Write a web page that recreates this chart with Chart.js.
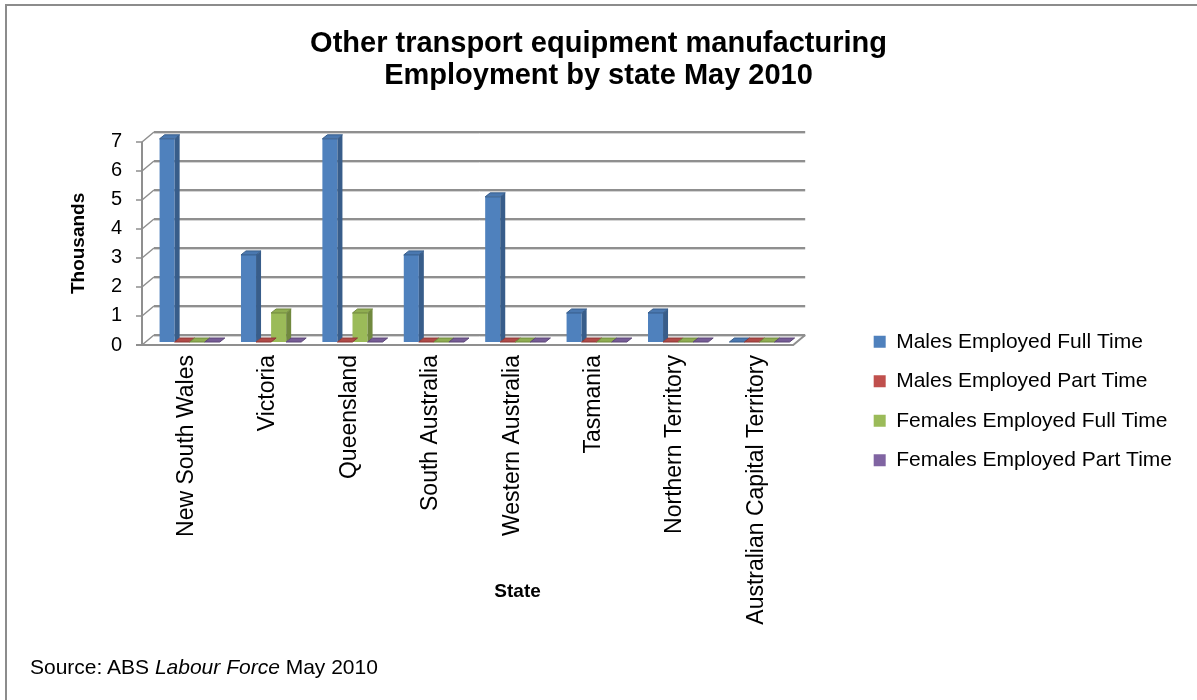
<!DOCTYPE html>
<html>
<head>
<meta charset="utf-8">
<title>Other transport equipment manufacturing – Employment by state May 2010</title>
<script src="https://cdn.jsdelivr.net/npm/chart.js@4.4.1/dist/chart.umd.min.js"></script>
<style>
  html, body { margin: 0; padding: 0; background: #fff; }
  body { width: 1197px; height: 700px; position: relative; overflow: hidden; font-family: 'Liberation Sans', Arial, sans-serif; }
  #frame { position: absolute; left: 5px; top: 4px; width: 1400px; height: 900px;
           border-top: 2px solid #8c8c8c; border-left: 2px solid #8c8c8c; }
  #wrap { position: absolute; left: 0; top: 0; width: 1197px; height: 700px; }
  #source { position: absolute; left: 30px; top: 655px; font-size: 21px; color: #000; }
</style>
</head>
<body>
<div id="frame"></div>
<div id="wrap"><canvas id="chart" width="1197" height="700"></canvas></div>
<div id="source">Source: ABS <i>Labour Force</i> May 2010</div>

<script>
// States along the category axis
const STATES = [
  'New South Wales', 'Victoria', 'Queensland', 'South Australia',
  'Western Australia', 'Tasmania', 'Northern Territory', 'Australian Capital Territory',
];

// Employment, thousands
const MALES_FULL     = [7, 3, 7, 3, 5, 1, 1, 0];
const MALES_PART     = [0, 0, 0, 0, 0, 0, 0, 0];
const FEMALES_FULL   = [0, 1, 1, 0, 0, 0, 0, 0];
const FEMALES_PART   = [0, 0, 0, 0, 0, 0, 0, 0];

const Y_TICKS = [0, 1, 2, 3, 4, 5, 6, 7];

// front / side / top face colours per series
const FACES = [
  { front: '#4f81bd', side: '#385d8a', top: '#4a78b0' },
  { front: '#c0504d', side: '#8c3836', top: '#b04a47' },
  { front: '#9bbb59', side: '#71893f', top: '#8fad51' },
  { front: '#8064a2', side: '#5c4776', top: '#765c96' },
];

const FONT = "'Liberation Sans', Arial, sans-serif";
const DEPTH = { dx: 12, dy: -10 };   // back wall offset
const BAR_D = { dx: 5, dy: -4 };     // bar depth

// ── back wall, side wall and floor ─────────────────────────────────────────
const walls3d = {
  id: 'walls3d',
  beforeDatasetsDraw(chart) {
    const { ctx, chartArea: a, scales: { y } } = chart;
    ctx.save();
    ctx.lineCap = 'butt';

    Y_TICKS.forEach(v => {
      const py = Math.round(y.getPixelForValue(v));
      // soft shadow under each grid line
      ctx.strokeStyle = '#d4d4d4';
      ctx.lineWidth = 1;
      ctx.beginPath();
      ctx.moveTo(a.left + DEPTH.dx, py + DEPTH.dy + 1.5);
      ctx.lineTo(a.right + DEPTH.dx, py + DEPTH.dy + 1.5);
      ctx.stroke();

      ctx.strokeStyle = '#8f8f8f';
      ctx.lineWidth = 2;
      ctx.beginPath();
      ctx.moveTo(a.left + DEPTH.dx, py + DEPTH.dy);
      ctx.lineTo(a.right + DEPTH.dx, py + DEPTH.dy);
      ctx.stroke();

      // side wall diagonal + tick mark
      ctx.lineWidth = 1.5;
      ctx.beginPath();
      ctx.moveTo(a.left, py);
      ctx.lineTo(a.left + DEPTH.dx, py + DEPTH.dy);
      ctx.moveTo(a.left - 6, py);
      ctx.lineTo(a.left, py);
      ctx.stroke();
    });

    // value axis line
    ctx.strokeStyle = '#8f8f8f';
    ctx.lineWidth = 2;
    ctx.beginPath();
    ctx.moveTo(a.left, a.top);
    ctx.lineTo(a.left, a.bottom);
    ctx.stroke();

    // floor outline
    ctx.beginPath();
    ctx.moveTo(a.left - 6, a.bottom);
    ctx.lineTo(a.right, a.bottom);
    ctx.lineTo(a.right + DEPTH.dx, a.bottom + DEPTH.dy);
    ctx.stroke();
    ctx.restore();

    // bars stand part way into the depth of the floor
    ctx.save();
    ctx.translate(7, -3);
  },
  afterDatasetsDraw(chart) {
    const { ctx } = chart;
    const n = chart.data.labels.length;
    for (let i = 0; i < n; i++) {
      chart.data.datasets.forEach((ds, di) => {
        const bar = chart.getDatasetMeta(di).data[i];
        if (!bar) return;
        const { x, y, base, width } = bar.getProps(['x', 'y', 'base', 'width'], true);
        const l = x - width / 2, r = x + width / 2;
        const f = FACES[di];
        // right side
        ctx.fillStyle = f.side;
        ctx.beginPath();
        ctx.moveTo(r, y);
        ctx.lineTo(r + BAR_D.dx, y + BAR_D.dy);
        ctx.lineTo(r + BAR_D.dx, base + BAR_D.dy);
        ctx.lineTo(r, base);
        ctx.closePath();
        ctx.fill();
        // top
        ctx.fillStyle = f.top;
        ctx.beginPath();
        ctx.moveTo(l, y);
        ctx.lineTo(l + BAR_D.dx, y + BAR_D.dy);
        ctx.lineTo(r + BAR_D.dx, y + BAR_D.dy);
        ctx.lineTo(r, y);
        ctx.closePath();
        ctx.fill();
        ctx.strokeStyle = f.side;
        ctx.lineWidth = 1;
        ctx.stroke();
      });
    }
    ctx.restore();
  },
  afterDraw(chart) {
    // category axis title
    const { ctx, chartArea: a } = chart;
    ctx.save();
    ctx.font = `bold 19px ${FONT}`;
    ctx.fillStyle = '#000';
    ctx.textAlign = 'center';
    ctx.textBaseline = 'middle';
    ctx.fillText('State', (a.left + a.right) / 2 + 50, 592);
    ctx.restore();
  },
};

const series = [
  ['Males Employed Full Time', MALES_FULL],
  ['Males Employed Part Time', MALES_PART],
  ['Females Employed Full Time', FEMALES_FULL],
  ['Females Employed Part Time', FEMALES_PART],
];

new Chart(document.getElementById('chart'), {
  type: 'bar',
  data: {
    labels: STATES,
    datasets: series.map(([label, data], i) => ({
      label,
      data,
      backgroundColor: FACES[i].front,
      borderWidth: 0,
      barPercentage: 1,
      categoryPercentage: 0.74,
      clip: false,
    })),
  },
  plugins: [walls3d],
  options: {
    responsive: false,
    animation: false,
    layout: { padding: { top: 0, left: 15, right: 15, bottom: 43 } },
    plugins: {
      title: {
        display: true,
        text: ['Other transport equipment manufacturing', 'Employment by state May 2010'],
        color: '#000',
        font: { family: FONT, size: 29, weight: 'bold', lineHeight: 1.1 },
        padding: { top: 28, bottom: 50 },
      },
      legend: {
        display: true,
        position: 'right',
        align: 'center',
        maxWidth: 360,
        // empty title only pushes the items down
        title: { display: true, text: '', font: { size: 10 }, padding: { top: 133, bottom: 0 } },
        labels: {
          color: '#000',
          boxWidth: 12,
          boxHeight: 12,
          padding: 18.5,
          font: { family: FONT, size: 21 },
        },
      },
      tooltip: { enabled: false },
    },
    scales: {
      x: {
        grid: { display: false },
        border: { display: false },
        ticks: {
          color: '#000',
          font: { family: FONT, size: 23 },
          minRotation: 90,
          maxRotation: 90,
          autoSkip: false,
          padding: 2,
          labelOffset: 4,
        },
        afterFit: s => { s.height = 312; },
      },
      y: {
        min: 0,
        max: 7,
        grid: { display: false },
        border: { display: false },
        ticks: {
          stepSize: 1,
          color: '#000',
          font: { family: FONT, size: 20 },
          padding: 12,
        },
        title: {
          display: true,
          text: 'Thousands',
          color: '#000',
          font: { family: FONT, size: 19, weight: 'bold' },
          padding: { top: 52 },
        },
        afterFit: s => { s.width = 127; },
      },
      // empty band between the floor and the legend
      gap: {
        type: 'linear',
        position: 'right',
        display: true,
        grid: { display: false },
        border: { display: false },
        ticks: { display: false },
        afterFit: s => { s.width = 62; },
      },
    },
  },
});
</script>
</body>
</html>
